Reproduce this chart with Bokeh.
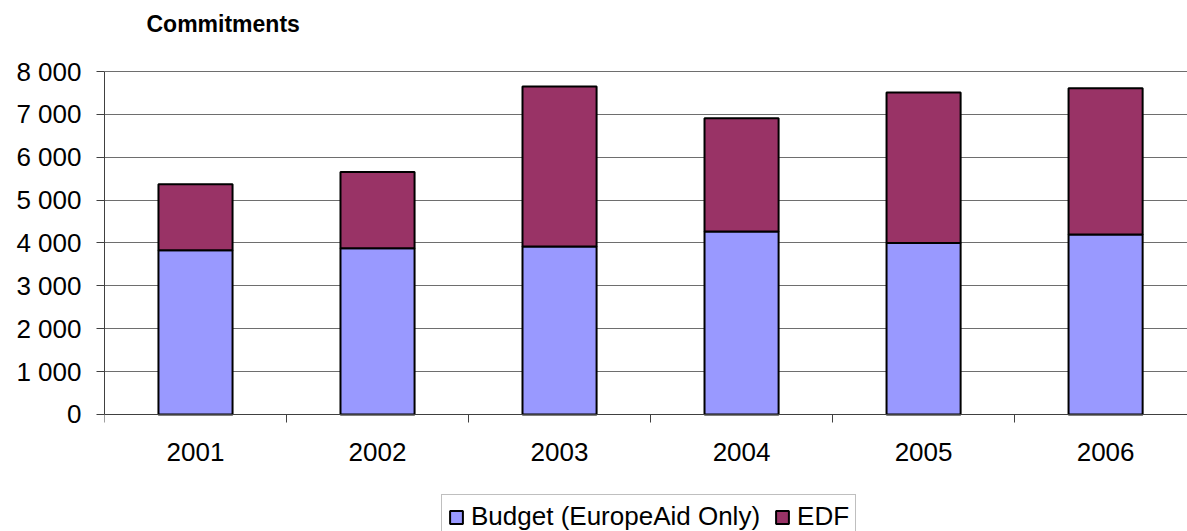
from bokeh.plotting import figure
from bokeh.models import FixedTicker, Legend, LegendItem, ColumnDataSource, Range1d, Label
from bokeh.embed import file_html
from bokeh.resources import INLINE

years = ["2001", "2002", "2003", "2004", "2005", "2006"]
budget = [3830, 3880, 3920, 4270, 4000, 4200]
edf = [1540, 1775, 3730, 2640, 3510, 3410]
series_names = ["Budget (EuropeAid Only)", "EDF"]
colors = ["#9999FF", "#993366"]
y_ticks = [0, 1000, 2000, 3000, 4000, 5000, 6000, 7000, 8000]
y_tick_labels = ["0", "1 000", "2 000", "3 000", "4 000", "5 000", "6 000", "7 000", "8 000"]
title_text = "Commitments"

x_pos = [i + 0.5 for i in range(len(years))]
source = ColumnDataSource(dict(x=x_pos, budget=budget, edf=edf))

FONT = "Liberation Sans"

# the frame covers the full height; 0..8000 occupies the middle band, the space
# above holds the title and the space below the category labels and the legend
p = figure(width=1187, height=531, output_backend="svg", toolbar_location=None,
           x_range=Range1d(0, 5.95), y_range=Range1d(-2729, 9656),
           min_border_left=104, min_border_right=0, min_border_top=0, min_border_bottom=0)
p.outline_line_color = None
p.background_fill_color = "white"
p.border_fill_color = "white"

p.add_layout(Label(x=42, y=508, x_units="screen", y_units="screen", text=title_text,
                   text_font=FONT, text_font_size="23px", text_font_style="bold",
                   text_color="black", text_baseline="alphabetic"))

rs = p.vbar_stack(["budget", "edf"], x="x", width=0.407, source=source,
                  fill_color=colors, line_color="black", line_width=2)

# y axis
p.yaxis.ticker = FixedTicker(ticks=y_ticks)
p.yaxis.bounds = (0, 8000)
p.yaxis.major_label_overrides = {t: l for t, l in zip(y_ticks, y_tick_labels)}
p.yaxis.major_tick_out = 8
p.yaxis.major_tick_in = 0
p.yaxis.minor_tick_line_color = None
p.yaxis.axis_line_color = "#404040"
p.yaxis.major_tick_line_color = "#404040"
p.yaxis.major_label_text_font = FONT
p.yaxis.major_label_text_font_size = "26px"
p.yaxis.major_label_text_color = "black"
p.yaxis.major_label_standoff = 15

# x axis, drawn at y = 0
p.xaxis.fixed_location = 0
p.xaxis.ticker = FixedTicker(ticks=x_pos, minor_ticks=list(range(len(years) + 1)))
p.xaxis.major_label_overrides = {x: y for x, y in zip(x_pos, years)}
p.xaxis.major_tick_line_color = None
p.xaxis.major_tick_out = 0
p.xaxis.major_tick_in = 0
p.xaxis.minor_tick_out = 8
p.xaxis.minor_tick_in = 0
p.xaxis.minor_tick_line_color = "#404040"
p.xaxis.axis_line_color = "#404040"
p.xaxis.major_label_text_font = FONT
p.xaxis.major_label_text_font_size = "26px"
p.xaxis.major_label_text_color = "black"
p.xaxis.major_label_standoff = 21

p.xgrid.grid_line_color = None
p.ygrid.ticker = FixedTicker(ticks=y_ticks)
p.ygrid.grid_line_color = "#6e6e6e"
p.ygrid.grid_line_width = 1

legend = Legend(items=[LegendItem(label=series_names[0], renderers=[rs[0]]),
                       LegendItem(label=series_names[1], renderers=[rs[1]])],
                orientation="horizontal", location=(337, -8),
                label_text_font=FONT, label_text_font_size="26px", label_text_color="black",
                glyph_width=16, glyph_height=16, label_standoff=7, spacing=14,
                padding=6, margin=0, border_line_color="#808080", border_line_width=1,
                label_height=29, background_fill_color="white")
p.add_layout(legend, "center")

open("out.html", "w").write(file_html(p, INLINE))
